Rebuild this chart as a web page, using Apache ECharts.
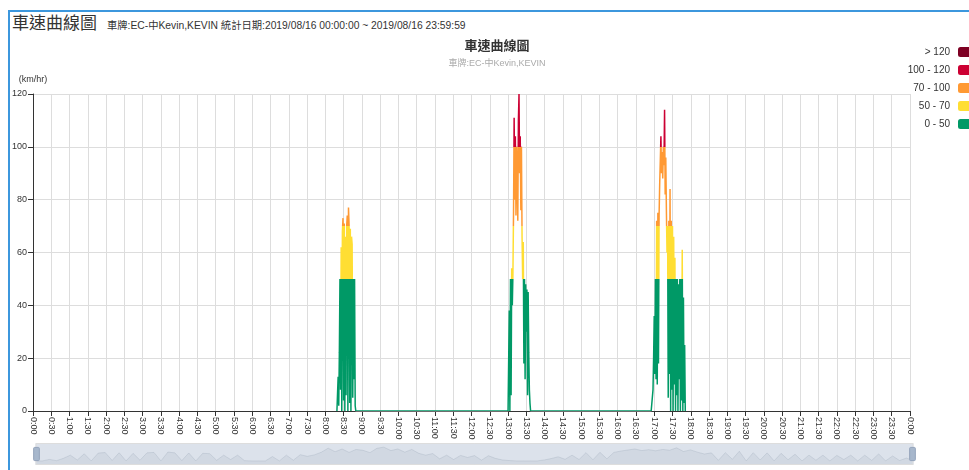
<!DOCTYPE html>
<html>
<head>
<meta charset="utf-8">
<script src="https://cdn.jsdelivr.net/npm/echarts/dist/echarts.min.js"></script>
<style>
  html, body { margin: 0; padding: 0; width: 969px; height: 470px; overflow: hidden; background: #fff; }
  #frame { position: absolute; left: 8px; top: 10px; width: 980px; height: 470px;
           border-top: 2px solid #3c97dd; border-left: 2px solid #3c97dd; box-sizing: border-box; }
  #head { position: absolute; left: 12px; top: 11px; display: flex; align-items: baseline; white-space: nowrap;
          font-family: "Liberation Sans", "Noto Sans CJK TC", sans-serif; color: #333; }
  #head .big { font-size: 17px; font-family: "Noto Sans CJK TC", sans-serif; line-height: 22px; }
  #head .small { font-size: 10.3px; margin-left: 10px; }
  #chart { position: absolute; left: 9px; top: 32px; width: 976px; height: 438px; }
</style>
</head>
<body>
<div id="frame"></div>
<div id="head"><span class="big">車速曲線圖</span><span class="small">車牌:EC-中Kevin,KEVIN 統計日期:2019/08/16 00:00:00 ~ 2019/08/16 23:59:59</span></div>
<div id="chart"></div>
<script>
// ---- data (minutes after midnight, speeds in km/h, one sample per minute) ----
const timeLabels = ['0:00','0:30','1:00','1:30','2:00','2:30','3:00','3:30','4:00','4:30','5:00','5:30',
  '6:00','6:30','7:00','7:30','8:00','8:30','9:00','9:30','10:00','10:30','11:00','11:30',
  '12:00','12:30','13:00','13:30','14:00','14:30','15:00','15:30','16:00','16:30','17:00','17:30',
  '18:00','18:30','19:00','19:30','20:00','20:30','21:00','21:30','22:00','22:30','23:00','23:30','0:00'];

const trip1StartMin = 499;
const trip1Speeds = [0, 0, 13, 2, 22, 50, 8, 62, 0, 68, 73, 4, 71, 0, 66, 6, 70, 74, 0, 77, 70, 3, 69, 0, 66, 63, 5, 50, 12, 50, 2, 0];

const trip2StartMin = 780;
const trip2Speeds = [0, 0, 38, 0, 50, 6, 54, 40, 52, 75, 111, 80, 104, 74, 100, 92, 72, 110, 120, 90, 104, 76, 100, 66, 50, 64, 18, 50, 12, 48, 30, 46, 6, 45, 22, 8, 3, 0];

const trip3StartMin = 1015;
const trip3Speeds = [0, 0, 0, 8, 20, 36, 14, 50, 12, 72, 10, 75, 18, 74, 86, 95, 104, 90, 98, 88, 100, 93, 114, 82, 96, 76, 60, 70, 5, 72, 14, 84, 0, 72, 8, 70, 0, 66, 10, 58, 0, 50, 6, 50, 0, 48, 12, 50, 0, 50, 4, 61, 0, 43, 3, 25, 0];

const speedLabels = ['0 - 50', '50 - 70', '70 - 100', '100 - 120', '> 120'];
const speedColors = ['#009966', '#ffde33', '#ff9933', '#cc0033', '#7e0023'];

// ---- build points ----
const points = [];
[[trip1StartMin, trip1Speeds], [trip2StartMin, trip2Speeds], [trip3StartMin, trip3Speeds]].forEach(([s, arr]) => {
  arr.forEach((v, i) => points.push([s + i, v]));
});

const font = '"Liberation Sans", "Noto Sans CJK TC", sans-serif';
const chart = echarts.init(document.getElementById('chart'), null, { renderer: 'canvas' });
chart.setOption({
  animation: false,
  textStyle: { fontFamily: font },
  title: {
    text: '車速曲線圖',
    subtext: '車牌:EC-中Kevin,KEVIN',
    left: 'center', top: 3, itemGap: 6,
    textStyle: { fontSize: 13, fontWeight: 'bold', color: '#333', fontFamily: font },
    subtextStyle: { fontSize: 9, color: '#aaa', fontFamily: font }
  },
  visualMap: {
    type: 'piecewise',
    orient: 'vertical',
    right: -8, top: 0,
    itemWidth: 20, itemHeight: 10, itemGap: 8,
    align: 'right',
    textGap: 8,
    dimension: 1,
    seriesIndex: 0,
    textStyle: { fontSize: 10, color: '#333' },
    pieces: [
      { gte: 0, lte: 50, color: speedColors[0], label: speedLabels[0] },
      { gt: 50, lte: 70, color: speedColors[1], label: speedLabels[1] },
      { gt: 70, lte: 100, color: speedColors[2], label: speedLabels[2] },
      { gt: 100, lte: 120, color: speedColors[3], label: speedLabels[3] },
      { gt: 120, color: speedColors[4], label: speedLabels[4] }
    ],
    outOfRange: { color: '#999' }
  },
  grid: { left: 24, right: 75, top: 62, bottom: 59 },
  xAxis: {
    type: 'value', min: 0, max: 1440, interval: 30,
    axisLine: { show: true, lineStyle: { color: '#333' } },
    axisTick: { show: true, lineStyle: { color: '#333' } },
    splitLine: { show: true, lineStyle: { color: '#ddd' } },
    axisLabel: {
      rotate: -90, fontSize: 9, color: '#333', margin: 6,
      formatter: v => timeLabels[Math.round(v / 30)]
    }
  },
  yAxis: {
    type: 'value', min: 0, max: 120, interval: 20,
    name: '(km/hr)', nameGap: 10,
    nameTextStyle: { fontSize: 9, color: '#333' },
    axisLine: { show: true, lineStyle: { color: '#333' } },
    axisTick: { show: true, lineStyle: { color: '#333' } },
    splitLine: { show: true, lineStyle: { color: '#ddd' } },
    axisLabel: { fontSize: 9, color: '#333', margin: 6 }
  },
  dataZoom: [{
    type: 'slider', xAxisIndex: 0, start: 0, end: 100,
    left: 24, right: 74, top: 411, height: 22,
    backgroundColor: 'rgba(47,69,84,0)',
    borderColor: '#ddd',
    fillerColor: 'rgba(167,183,204,0.4)',
    dataBackground: {
      lineStyle: { color: '#2f4554', opacity: 0.3, width: 0.5 },
      areaStyle: { color: 'rgba(47,69,84,0.3)' }
    },
    selectedDataBackground: {
      lineStyle: { color: '#2f4554', opacity: 0.3, width: 0.5 },
      areaStyle: { color: 'rgba(47,69,84,0.3)' }
    },
    handleIcon: 'path://M1,0 L5,0 Q6,0 6,1 L6,13 Q6,14 5,14 L1,14 Q0,14 0,13 L0,1 Q0,0 1,0 Z',
    handleSize: '60%',
    handleStyle: { color: '#a7b7cc', borderColor: '#93a3bb' },
    moveHandleSize: 0,
    showDetail: false,
    brushSelect: false
  }],
  series: [{
    type: 'line',
    data: points,
    showSymbol: false,
    symbol: 'none',
    lineStyle: { width: 1.5 }
  }]
});
</script>
</body>
</html>
